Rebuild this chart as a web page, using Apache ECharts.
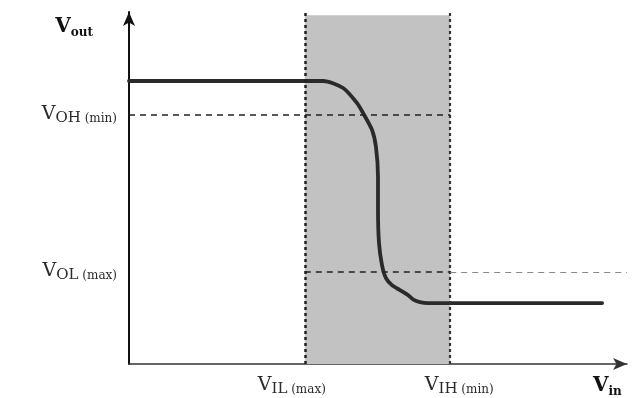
<!DOCTYPE html>
<html>
<head>
<meta charset="utf-8">
<script src="https://cdn.jsdelivr.net/npm/echarts@6/dist/echarts.min.js"></script>
<style>
html, body { margin: 0; padding: 0; background: #fff; }
#chart { width: 635px; height: 398px; }
</style>
</head>
<body>
<div id="chart"></div>
<script>
// inverter transfer curve, arbitrary units (0..10 on both axes)
var curveVin  = [0, 3.90, 4.30, 4.58, 4.70, 4.88, 4.96, 5.00, 5.00, 5.02, 5.08, 5.16, 5.28, 5.44, 5.60, 5.72, 5.84, 6.00, 9.50];
var curveVout = [8.04, 8.04, 7.84, 7.41, 7.13, 6.65, 6.16, 5.31, 4.38, 3.44, 2.81, 2.44, 2.24, 2.10, 1.96, 1.82, 1.76, 1.73, 1.73];

// threshold levels
var vIL = 3.53, vIH = 6.45, vOH = 7.07, vOL = 2.61;
var bandTop = 9.91;

var xTickValues = [vIL, vIH];
var xTickLabels = ['{v|V}{s|IL}{m| (max)}{gap|}', '{gap2|}{v|V}{s|IH}{m| (min)}'];
var yTickValues = [vOH, vOL];
var yTickLabels = ['{v|V}{s|OH}{m| (min)}', '{v|V}{s|OL}{m| (max)}'];

var serif = 'DejaVu Serif';
var subRich = {
  v: { fontFamily: serif, fontSize: 19, color: '#2a2a2a', verticalAlign: 'bottom', padding: [0, 0, 2, 0] },
  s: { fontFamily: serif, fontSize: 15, color: '#2a2a2a', verticalAlign: 'bottom' },
  m: { fontFamily: serif, fontSize: 12, color: '#2a2a2a', verticalAlign: 'bottom', padding: [0, 0, 1, 0] },
  gap: { width: 26 },
  gap2: { width: 18 }
};
var boldRich = {
  v: { fontFamily: serif, fontSize: 20, fontWeight: 'bold', color: '#111', verticalAlign: 'bottom', padding: [0, 0, 2, 0] },
  s: { fontFamily: serif, fontSize: 12, fontWeight: 'bold', color: '#111', verticalAlign: 'bottom' }
};

var myChart = echarts.init(document.getElementById('chart'));

var option = {
  backgroundColor: '#fff',
  animation: false,
  grid: { left: 129, right: 8, top: 12, bottom: 34, outerBoundsMode: 'none' },
  xAxis: {
    type: 'value',
    min: 0,
    max: 10,
    name: '{v|V}{s|in}',
    nameLocation: 'end',
    nameGap: -34,
    nameTextStyle: { align: 'left', verticalAlign: 'top', padding: [12, 0, 0, 0], rich: boldRich },
    splitLine: { show: false },
    axisTick: { show: false },
    axisLine: {
      show: true,
      symbol: ['none', 'arrow'],
      symbolSize: [9, 14],
      lineStyle: { color: '#333', width: 1.5 }
    },
    axisLabel: {
      customValues: xTickValues,
      margin: 12,
      rich: subRich,
      formatter: function (value) {
        return xTickLabels[xTickValues.indexOf(value)];
      }
    }
  },
  yAxis: {
    type: 'value',
    min: 0,
    max: 10,
    name: '{v|V}{s|out}',
    nameLocation: 'end',
    nameGap: -27,
    nameTextStyle: { align: 'right', padding: [0, 36, 0, 0], rich: boldRich },
    splitLine: { show: false },
    axisTick: { show: false },
    axisLine: {
      show: true,
      symbol: ['none', 'arrow'],
      symbolSize: [9, 14],
      lineStyle: { color: '#111', width: 2 }
    },
    axisLabel: {
      customValues: yTickValues,
      margin: 12,
      rich: subRich,
      formatter: function (value) {
        return yTickLabels[yTickValues.indexOf(value)];
      }
    }
  },
  series: [
    {
      // shaded transition band
      type: 'line',
      data: [],
      z: 1,
      silent: true,
      markArea: {
        silent: true,
        itemStyle: { color: '#c2c2c2' },
        data: [[{ coord: [vIL, 0] }, { coord: [vIH, bandTop] }]]
      }
    },
    {
      // guide lines
      type: 'line',
      data: [],
      z: 2,
      silent: true,
      markLine: {
        silent: true,
        symbol: 'none',
        label: { show: false },
        animation: false,
        data: [
          [{ coord: [vIL, 0], lineStyle: { type: [3, 3], color: '#222', width: 2.5 } }, { coord: [vIL, 10] }],
          [{ coord: [vIH, 0], lineStyle: { type: [3, 3], color: '#333', width: 2.2 } }, { coord: [vIH, 10] }],
          [{ coord: [0, vOH], lineStyle: { type: [6, 5], color: '#222', width: 1.6 } }, { coord: [vIH, vOH] }],
          [{ coord: [vIL, vOL], lineStyle: { type: [6, 5], color: '#222', width: 1.6 } }, { coord: [vIH, vOL] }],
          [{ coord: [vIH, vOL], lineStyle: { type: [6, 5], color: '#888', width: 1 } }, { coord: [10, vOL] }]
        ]
      }
    },
    {
      type: 'line',
      z: 3,
      silent: true,
      showSymbol: false,
      smooth: 0.25,
      lineStyle: { color: '#2a2a2a', width: 3.8, cap: 'round', join: 'round' },
      data: curveVin.map(function (x, i) { return [x, curveVout[i]]; })
    }
  ]
};

myChart.setOption(option);
window.onresize = myChart.resize;
</script>
</body>
</html>
